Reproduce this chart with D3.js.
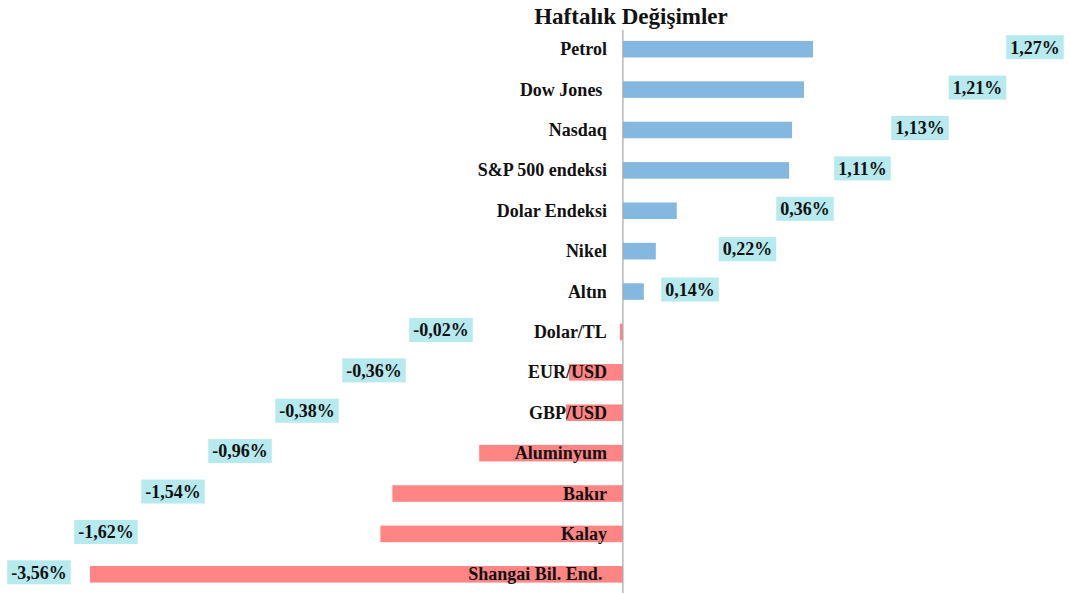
<!DOCTYPE html>
<html>
<head>
<meta charset="utf-8">
<script src="https://cdn.jsdelivr.net/npm/d3@7"></script>
<style>
  body { margin: 0; background: #fff; }
  svg text { font-family: "Liberation Serif", "Times New Roman", serif; font-weight: bold; fill: #111; }
</style>
</head>
<body>
<div id="chart"></div>
<script>
const categories = ['Petrol', 'Dow Jones ', 'Nasdaq', 'S&P 500 endeksi', 'Dolar Endeksi', 'Nikel', 'Altın',
  'Dolar/TL', 'EUR/USD', 'GBP/USD', 'Aluminyum', 'Bakır', 'Kalay', 'Shangai Bil. End. '];
const values = [1.27, 1.21, 1.13, 1.11, 0.36, 0.22, 0.14, -0.02, -0.36, -0.38, -0.96, -1.54, -1.62, -3.56];
const title = 'Haftalık Değişimler';

const W = 1070, H = 593;
const data = categories.map((c, i) => ({ name: c, value: values[i], i }));

const svg = d3.select('#chart').append('svg')
  .attr('width', W).attr('height', H);

const x = d3.scaleLinear().domain([-3.56, 1.27]).range([90, 813]);
const y = d3.scaleBand()
  .domain(categories)
  .range([29, 594.5])
  .paddingInner(0.59)
  .paddingOuter(0.295);

// Turkish style: comma decimal, plain hyphen minus
const fmt = v => d3.format('.2f')(v).replace('.', ',').replace('\u2212', '-') + '%';

// title
svg.append('text')
  .attr('x', 631).attr('y', 24)
  .attr('text-anchor', 'middle')
  .style('font-size', '23px')
  .text(title);

// bars
svg.selectAll('rect.bar')
  .data(data).enter().append('rect')
  .attr('class', 'bar')
  .attr('x', d => x(Math.min(0, d.value)))
  .attr('y', d => y(d.name))
  .attr('width', d => Math.abs(x(d.value) - x(0)))
  .attr('height', y.bandwidth())
  .attr('fill', d => d.value >= 0 ? '#85b8e1' : '#ff8585');

// axis line
svg.append('line')
  .attr('x1', x(0)).attr('x2', x(0))
  .attr('y1', 30).attr('y2', 593)
  .attr('stroke', '#a6a6a6').attr('stroke-width', 1.2);

// category labels (next to axis)
svg.selectAll('text.cat')
  .data(data).enter().append('text')
  .attr('class', 'cat')
  .attr('x', x(0) - 16)
  .attr('y', d => y(d.name) + y.bandwidth() / 2 + 6)
  .attr('text-anchor', 'end')
  .style('font-size', '18px')
  .style('white-space', 'pre')
  .text(d => d.name);

// value labels, staggered diagonally like the original
const labelX = d => d.value >= 0 ? 1035 - 57.5 * d.i : 441 - 67 * (d.i - 7);
const lbl = svg.selectAll('g.lbl')
  .data(data).enter().append('g')
  .attr('class', 'lbl')
  .attr('transform', d => `translate(${labelX(d)},${y(d.name) + y.bandwidth() / 2 - 2})`);

lbl.append('text')
  .attr('text-anchor', 'middle')
  .attr('dy', '0.35em')
  .style('font-size', '18px')
  .text(d => fmt(d.value));

lbl.each(function() {
  const g = d3.select(this);
  const b = g.select('text').node().getBBox();
  g.insert('rect', 'text')
    .attr('x', b.x - 4).attr('y', -12)
    .attr('width', b.width + 8).attr('height', 24)
    .attr('fill', '#b6eaee');
});
</script>
</body>
</html>
